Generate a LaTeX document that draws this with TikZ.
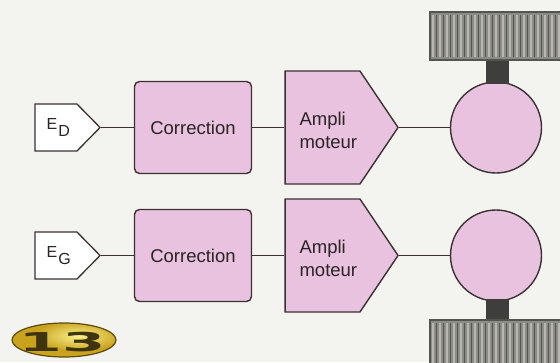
\documentclass[tikz,border=0pt]{standalone}
\usepackage{fontspec}
\setmainfont{Liberation Sans}
\newfontfamily\badgefont{DejaVu Sans}
\usetikzlibrary{shapes.symbols,positioning}

\definecolor{paper}{HTML}{F3F4F0}
\definecolor{mauve}{HTML}{E8C2DE}
\definecolor{edge}{HTML}{3A3232}
\definecolor{ink}{HTML}{2A2424}
\definecolor{tyre}{HTML}{8C8C86}
\definecolor{tyrelite}{HTML}{B8B8B0}
\definecolor{tyredark}{HTML}{55554F}
\definecolor{shaft}{HTML}{3E3E3C}
\definecolor{goldlite}{HTML}{FBF08A}
\definecolor{goldmid}{HTML}{C9A21E}
\definecolor{golddark}{HTML}{5E4A0C}
\definecolor{olive}{HTML}{3E340E}

\begin{document}
\begin{tikzpicture}[x=1pt,y=-1pt,
  wire/.style={draw=edge,line width=0.9pt},
  tag/.style={shape=signal,signal to=east,signal pointer angle=91,
    draw=edge,line width=1.3pt,fill=white,
    minimum width=65pt,minimum height=47pt,inner sep=0pt},
  corrbox/.style={rectangle,rounded corners=5pt,draw=edge,line width=1.4pt,
    fill=mauve,minimum width=117pt,minimum height=92pt,
    text=ink,font=\fontsize{18.5}{22}\selectfont},
  ampbox/.style={shape=signal,signal to=east,signal pointer angle=112,
    draw=edge,line width=1.4pt,fill=mauve,
    minimum width=113pt,minimum height=113pt,inner sep=0pt},
  motor/.style={circle,draw=edge,line width=1.4pt,fill=mauve,
    minimum size=91pt,inner sep=0pt},
  lbl/.style={text=ink,align=left,inner sep=0pt,
    font=\fontsize{18.5}{23}\selectfont},
  taglbl/.style={text=ink,inner sep=0pt,font=\fontsize{16}{16}\selectfont}]

  % paper
  \fill[paper] (0,0) rectangle (560,362);
  \useasboundingbox (0,0) rectangle (560,362);

  \def\yD{127.5}
  \def\yG{255.5}

  % ---- right hand channel (top row)
  \node[tag]     (tagD) at (56,\yD)    {};
  \node[corrbox] (corD) at (193,\yD)   {Correction};
  \node[ampbox]  (ampD) at (322.5,\yD) {};
  \node[motor]   (motD) at (496,\yD)   {};

  \node[taglbl,right=12pt of tagD.west] {E\kern1pt\raisebox{-7pt}{D}};
  \node[lbl,right=15pt of ampD.west,yshift=-3pt] {Ampli\\moteur};

  \draw[wire] (tagD.east) -- (corD.west);
  \draw[wire] (corD.east) -- (ampD.west);
  \draw[wire] (ampD.east) -- (motD.west);

  % ---- left hand channel (bottom row)
  \node[tag]     (tagG) at (56,\yG)    {};
  \node[corrbox] (corG) at (193,\yG)   {Correction};
  \node[ampbox]  (ampG) at (322.5,\yG) {};
  \node[motor]   (motG) at (496,\yG)   {};

  \node[taglbl,right=12pt of tagG.west] {E\kern1pt\raisebox{-7pt}{G}};
  \node[lbl,right=15pt of ampG.west,yshift=-3pt] {Ampli\\moteur};

  \draw[wire] (tagG.east) -- (corG.west);
  \draw[wire] (corG.east) -- (ampG.west);
  \draw[wire] (ampG.east) -- (motG.west);

  % shafts
  \fill[shaft] (486,59) rectangle (509,84);
  \fill[shaft] (486,299) rectangle (509,321);

  % wheels
  \foreach \ya/\yb in {12/60,320/370}
  {
    \fill[tyre] (430,\ya) rectangle (566,\yb);
    \foreach \xx in {433,440,...,560}
       \draw[tyrelite,line width=1.4pt] (\xx,\ya+3) -- (\xx,\yb-3);
    \foreach \xx in {436.5,443.5,...,560}
       \draw[tyredark,line width=0.8pt] (\xx,\ya+3) -- (\xx,\yb-3);
    \draw[tyredark,line width=1.6pt] (430,\ya) rectangle (566,\yb);
  }

  % figure badge
  \begin{scope}
    \clip (64,340) ellipse [x radius=52,y radius=17];
    \fill[goldmid] (64,340) ellipse [x radius=52,y radius=17];
    \shade[inner color=goldlite,outer color=goldmid] (78,336) ellipse [x radius=44,y radius=15];
  \end{scope}
  \draw[golddark,line width=1.2pt] (64,340) ellipse [x radius=52,y radius=17];
  \node[text=olive,inner sep=0pt,font=\fontsize{26}{26}\badgefont\bfseries]
    (badge) at (62,342) {\scalebox{2.4}[1]{13}};

\end{tikzpicture}
\end{document}
